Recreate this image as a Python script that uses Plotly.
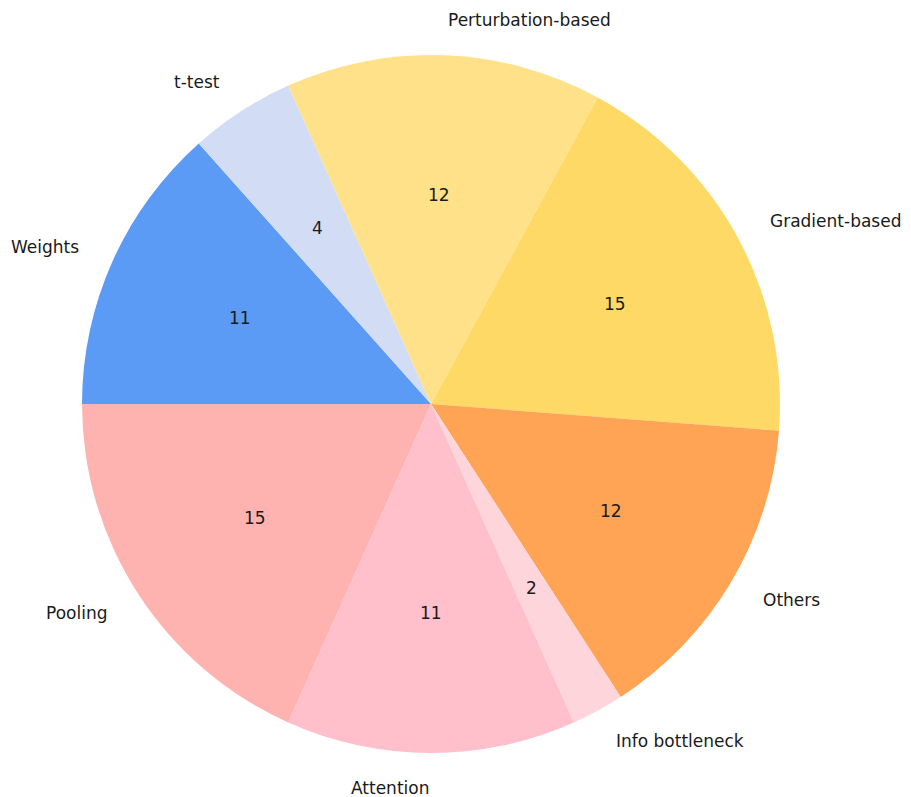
import math
import plotly.graph_objects as go

# slices listed clockwise, starting at 9 o'clock
labels = ["Weights", "t-test", "Perturbation-based", "Gradient-based", "Others",
          "Info bottleneck", "Attention", "Pooling"]
values = [11, 4, 12, 15, 12, 2, 11, 15]
colors = ["#5B9BF5", "#D3DCF5", "#FFE18A", "#FFD966", "#FFA354",
          "#FFD5DC", "#FFBFCB", "#FFB3B0"]

W, H = 911, 797
CX, CY, R = 431, 404, 349  # pie centre / radius in pixels
START_DEG = 180.0           # math angle of 9 o'clock

fig = go.Figure(go.Pie(
    labels=labels, values=values, sort=False, direction="clockwise",
    rotation=270, marker=dict(colors=colors, line=dict(width=0)),
    textinfo="none", hoverinfo="label+value", showlegend=False,
    domain=dict(x=[(CX - R) / W, (CX + R) / W], y=[1 - (CY + R) / H, 1 - (CY - R) / H]),
))

total = sum(values)
annotations = []
acc = 0.0
font = dict(family="DejaVu Sans", size=17, color="#1a1a1a")
for lab, v in zip(labels, values):
    mid = math.radians(START_DEG - (acc + v / 2) / total * 360)
    acc += v
    c, s = math.cos(mid), math.sin(mid)
    # value at 0.6 radius
    px, py = CX + 0.6 * R * c, CY - 0.6 * R * s
    annotations.append(dict(x=px / W, y=1 - py / H, xref="paper", yref="paper",
                            text=str(v), showarrow=False, font=font,
                            xanchor="center", yanchor="middle"))
    # label at 1.1 radius
    lx, ly = CX + 1.1 * R * c, CY - 1.1 * R * s
    annotations.append(dict(x=lx / W, y=1 - ly / H, xref="paper", yref="paper",
                            text=lab, showarrow=False, font=font,
                            xanchor="left" if c > 1e-6 else "right", yanchor="middle"))

fig.update_layout(width=W, height=H, margin=dict(l=0, r=0, t=0, b=0),
                  paper_bgcolor="white", plot_bgcolor="white",
                  annotations=annotations)
fig.write_html("out.html")
